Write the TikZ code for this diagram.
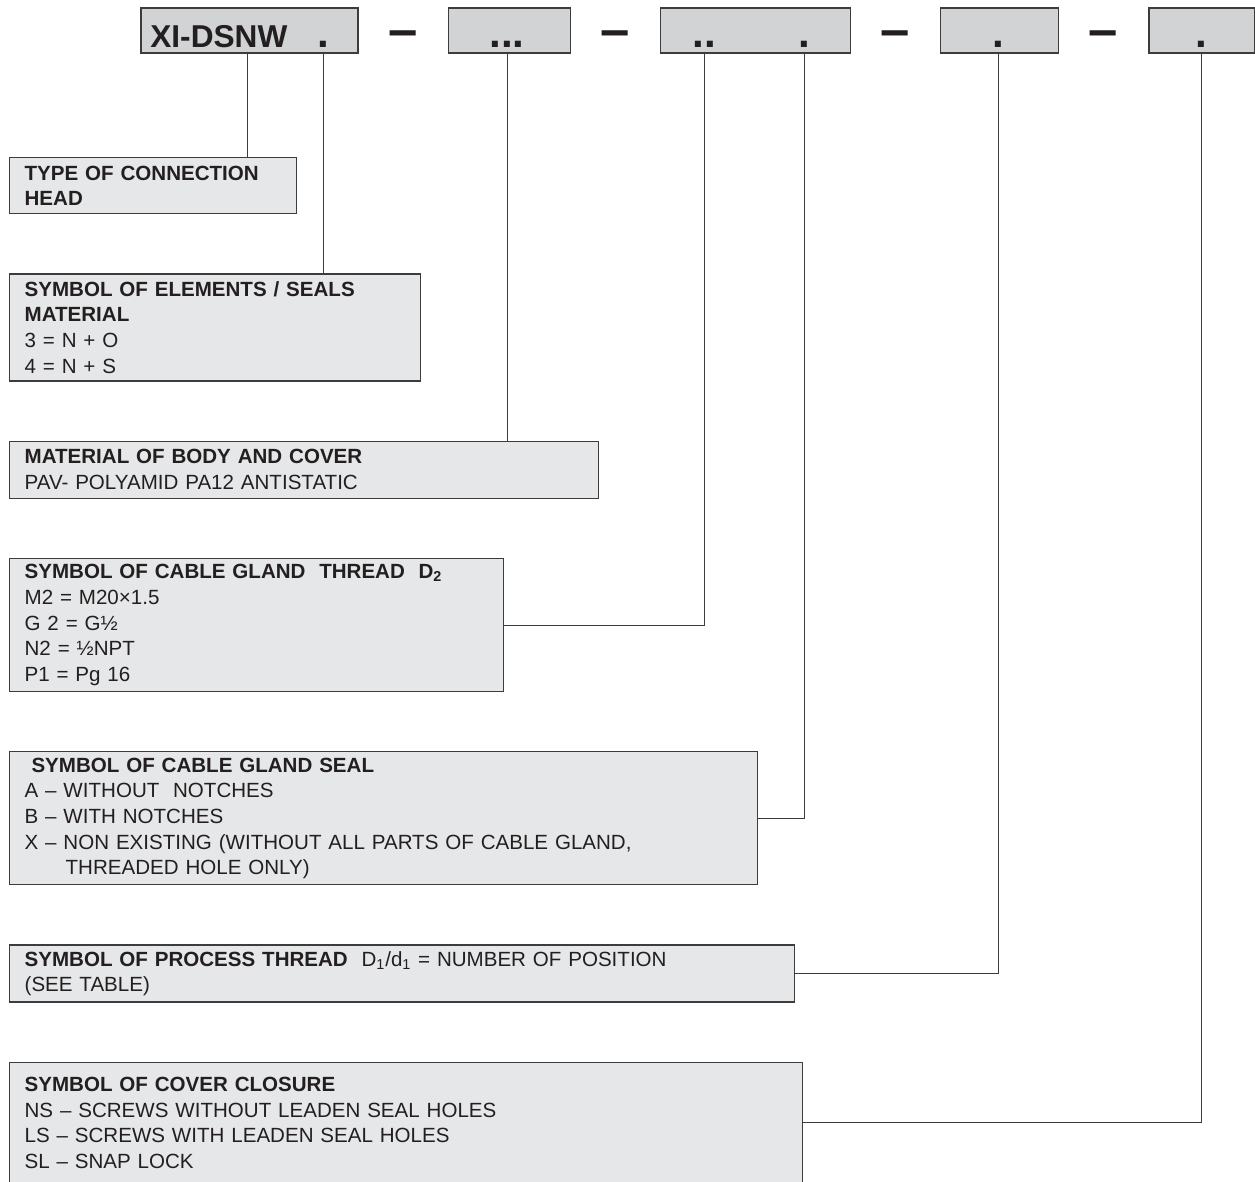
\documentclass[tikz,border=0pt]{standalone}
\usepackage{fontspec}
\setmainfont{Liberation Sans}
\usetikzlibrary{positioning}

\definecolor{cajaoscura}{HTML}{D1D3D4}
\definecolor{cajaclara}{HTML}{E6E7E8}
\definecolor{borde}{HTML}{3C3C3C}
\definecolor{tinta}{HTML}{231F20}

\begin{document}
\begin{tikzpicture}[x=0.02cm, y=-0.02cm, node distance=1.78cm,
    codigo/.style={draw=borde, line width=0.75pt, fill=cajaoscura, minimum height=0.9cm, inner sep=0pt},
    leyenda/.style={draw=borde, line width=0.75pt, fill=cajaclara, anchor=north west, align=left,
        inner xsep=0.3cm, inner ysep=2pt, text=tinta, font=\fontsize{11.7}{14.6}\selectfont},
    punto/.style={anchor=base, inner sep=0pt, text=tinta, font=\fontsize{24}{24}\selectfont\bfseries},
    guion/.style={anchor=base, inner sep=0pt, text=tinta, font=\fontsize{30}{30}\selectfont\bfseries},
    linea/.style={draw=borde, line width=0.55pt}]

    \useasboundingbox (0,0) rectangle (1255,1181);

    % Casillas del código
    \node (code) [codigo, minimum width=4.34cm] at (249.5,30.5) {};
    \node (matbox) [codigo, minimum width=2.44cm, right=of code] {};
    \node (threadbox) [codigo, minimum width=3.8cm, right=of matbox] {};
    \node (procbox) [codigo, minimum width=2.36cm, right=of threadbox] {};
    \node (closbox) [codigo, minimum width=2.12cm, right=of procbox] {};

    % Texto y puntos dentro de las casillas
    \node (codetext) [anchor=base west, inner sep=0pt, text=tinta, font=\fontsize{18}{18}\selectfont\bfseries] at (150,47) {XI-DSNW};
    \node (dot1) [punto] at (323,47) {.};
    \node (dot2) [punto] at (507,47) {...};
    \node (dot3) [punto] at (704,47) {..};
    \node (dot4) [punto] at (804,47) {.};
    \node (dot5) [punto] at (998,47) {.};
    \node (dot6) [punto] at (1201,47) {.};

    % Guiones entre casillas
    \node (dash1) [guion] at (403,47) {–};
    \node (dash2) [guion] at (615,47) {–};
    \node (dash3) [guion] at (895,47) {–};
    \node (dash4) [guion] at (1103,47) {–};

    % Cajas de explicación
    \node (head) [leyenda, text width=5.14cm, minimum height=1.12cm] at (9,157)
    {\textbf{TYPE OF CONNECTION}\\ \textbf{HEAD}};

    \node (seals) [leyenda, text width=7.62cm, minimum height=2.14cm, below=1.18cm of head.south west, anchor=north west]
    {\textbf{SYMBOL OF ELEMENTS / SEALS}\\ \textbf{MATERIAL}\\ 3 = N + O\\ 4 = N + S};

    \node (material) [leyenda, text width=11.18cm, minimum height=1.14cm, below=1.18cm of seals.south west, anchor=north west]
    {\textbf{MATERIAL OF BODY AND COVER}\\ PAV- POLYAMID PA12 ANTISTATIC};

    \node (gland) [leyenda, text width=9.28cm, minimum height=2.66cm, below=1.18cm of material.south west, anchor=north west]
    {\textbf{SYMBOL OF CABLE GLAND~~THREAD~~D\textsubscript{2}}\\ M2 = M20×1.5\\ G 2 = G½\\ N2 = ½NPT\\ P1 = Pg 16};

    \node (glandseal) [leyenda, text width=14.36cm, minimum height=2.66cm, below=1.18cm of gland.south west, anchor=north west]
    {\textbf{\ SYMBOL OF CABLE GLAND SEAL}\\ A – WITHOUT~~NOTCHES\\ B – WITH NOTCHES\\
     X – NON EXISTING (WITHOUT ALL PARTS OF CABLE GLAND,\\ \hspace*{0.82cm}THREADED HOLE ONLY)};

    \node (process) [leyenda, text width=15.1cm, minimum height=1.14cm, below=1.18cm of glandseal.south west, anchor=north west]
    {\textbf{SYMBOL OF PROCESS THREAD}~~D\textsubscript{1}/d\textsubscript{1} = NUMBER OF POSITION\\ (SEE TABLE)};

    \node (closure) [leyenda, text width=15.26cm, minimum height=2.42cm, below=1.18cm of process.south west, anchor=north west]
    {\textbf{SYMBOL OF COVER CLOSURE}\\ NS – SCREWS WITHOUT LEADEN SEAL HOLES\\ LS – SCREWS WITH LEADEN SEAL HOLES\\ SL – SNAP LOCK};

    % Líneas de unión
    \coordinate (hook) at (247,53);
    \draw[linea] (hook) -- (hook |- head.north);
    \draw[linea] (dot1 |- code.south) -- (dot1 |- seals.north);
    \draw[linea] (dot2 |- matbox.south) -- (dot2 |- material.north);
    \draw[linea] (dot3 |- threadbox.south) |- (gland.east);
    \draw[linea] (dot4 |- threadbox.south) |- (glandseal.east);
    \draw[linea] (dot5 |- procbox.south) |- (process.east);
    \draw[linea] (dot6 |- closbox.south) |- (closure.east);

\end{tikzpicture}
\end{document}
